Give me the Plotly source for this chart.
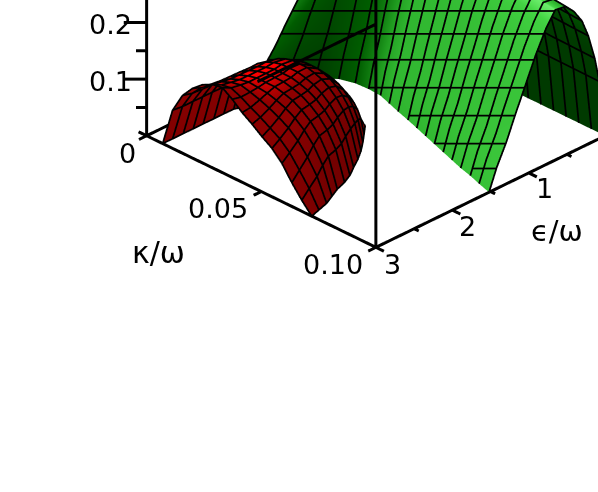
import numpy as np
import plotly.graph_objects as go

# ---------- values ----------
eps_range = [-0.6, 3.6]
kap_range = [-0.02, 0.12]
z_range = [-0.1, 0.5]

# red lobe
red_eps = [3, 2.87, 2.73, 2.6, 2.47, 2.33, 2.2, 2.07, 1.93, 1.8, 1.67, 1.55, 1.43]
red_kl = [.007, .007, .007, .007, .007, .007, .007, .007, .009, .013, .018, .025, .035]
red_kr = [.072, .0708, .0695, .0675, .0655, .064, .062, .0593, .0565, .0535, .05, .0465, .043]
red_h = [.15, .14, .135, .13, .127, .125, .122, .12, .118, .108, .088, .06, 0]
red_mix = [0, .3, .6, .85, 1, 1, 1, 1, 1, 1, 1, 1, 1]
red_front = [0, .45, .68, .82, .92, .98, 1, .92, .82, .74, .65, .57, .45, .28, .13, 0]
red_dome = [0, .5, .72, .84, .92, .97, 1, 1, 1, .97, .93, .86, .76, .62, .4, 0]

# green lobe
grn_kap = [0, .0055, .011, .0165, .022, .0275, .033, .0385, .044, .05, .0555, .061, .0665, .072, .0775, .083, .0885, .094, .1]
grn_eb = [1.55, 1.33, 1.12, .98, .93, .92, .93, .98, 1.03, 1.08, 1.13, 1.18, 1.23, 1.28, 1.33, 1.38, 1.42, 1.47, 1.52]
grn_h = [.17, .22, .26, .28, .29, .28, .272, .268, .265, .265, .265, .265, .265, .265, .265, .265, .265, .265, .265]
grn_tone = [.55, .55, .55, .5, .45, .3, .1, 0, 0, 0, 0, 0, 0, 0, 0, 0, 0, 0, 0]
grn_u = [0, .05, .09, .145, .2, .27, .34, .43, .51, .60, .684, .77, .85, .934, 1]
grn_p = [0, .38, .55, .72, .84, .93, .99, 1, .905, .76, .60, .44, .28, .14, 0]
grn_levels = [168, 143, 115, 87, 59, 33, 10]

z_ticks_major = [0.1, 0.2]
z_ticks_minor = [0.05, 0.15, 0.25, 0.3, 0.35]
kap_ticks = [0.05]
eps_ticks_major = [1, 2]
eps_ticks_minor = [0.5, 1.5, 2.5]

# ---------- view ----------
view = np.array([.618, .618, .487])
screen_up = np.array([-.344, -.344, .874])
cen = np.array([.5335, .0914, -.794])
dist = 2.0
EPS_U, KAP_U, Z_U = 3.0, 0.1, 0.5   # data span of one scene unit
RED_LIGHT = np.array([.1, -.25, .96])
GRN_LIGHT = np.array([.45, -.2, .87])
ZOOM = 1.318
LIFT = 0.02


def shade(X, Y, Z, light):
    A = np.stack([X / EPS_U, Y / KAP_U, Z / Z_U], axis=-1)
    du = np.gradient(A, axis=0)
    dv = np.gradient(A, axis=1)
    n = np.cross(du, dv)
    n = n * np.sign(n[..., 2:3] + 1e-12)
    n = n / (np.linalg.norm(n, axis=-1, keepdims=True) + 1e-12)
    return n @ light


def lines_trace(polys, width=3.5):
    xs, ys, zs = [], [], []
    for a, b, c in polys:
        xs += [p + view[0] * LIFT * EPS_U for p in a] + [None]
        ys += [p + view[1] * LIFT * KAP_U for p in b] + [None]
        zs += [p + view[2] * LIFT * Z_U for p in c] + [None]
    return go.Scatter3d(x=xs, y=ys, z=zs, mode="lines", line=dict(color="black", width=width),
                        hoverinfo="skip", showlegend=False)


def seg(x, y, z, w=6):
    return go.Scatter3d(x=x, y=y, z=z, mode="lines", line=dict(color="black", width=w),
                        hoverinfo="skip", showlegend=False)


# red
v = np.linspace(0, 1, len(red_dome))
E_r = np.array(red_eps)[:, None] * np.ones(len(v))
K_r = np.array(red_kl)[:, None] + np.outer(np.array(red_kr) - np.array(red_kl), v)
mix = np.array(red_mix)[:, None]
Z_r = np.array(red_h)[:, None] * ((1 - mix) * np.array(red_front) + mix * np.array(red_dome))
S_r = shade(E_r, K_r, Z_r, RED_LIGHT)
red_polys = [(E_r[i], K_r[i], Z_r[i]) for i in range(E_r.shape[0])]
red_polys += [(E_r[:, j], K_r[:, j], Z_r[:, j]) for j in range(E_r.shape[1])]

# green
E_g = np.outer(np.array(grn_eb), np.array(grn_u))
K_g = np.array(grn_kap)[:, None] * np.ones(len(grn_u))
Z_g = np.outer(np.array(grn_h), np.array(grn_p))
S_g = shade(E_g, K_g, Z_g, GRN_LIGHT) - np.array(grn_tone)[:, None]

grn_polys = [(E_g[i], K_g[i], Z_g[i]) for i in range(E_g.shape[0])]
peak = int(np.argmax(grn_p))
grn_polys += [(E_g[:, j], K_g[:, j], Z_g[:, j]) for j in range(1, peak)]


def screen_row(e, k, z):
    w = (e - 3) / EPS_U * screen_up[0] + (k - .1) / KAP_U * screen_up[1] + z / Z_U * screen_up[2]
    return 247 - 325 * w


for Y in grn_levels:
    pe, pk, pz = [], [], []
    for i in range(E_g.shape[0]):
        ee, zz = E_g[i, peak:], Z_g[i, peak:]
        yy = screen_row(ee, K_g[i, peak:], zz)
        if yy.min() <= Y <= yy.max():
            pe.append(np.interp(Y, yy, ee))
            pk.append(K_g[i, 0])
            pz.append(np.interp(Y, yy, zz))
        elif pe:
            break
    if len(pe) > 1:
        grn_polys.append((pe, pk, pz))

flat = dict(ambient=1, diffuse=0, specular=0, roughness=1, fresnel=0)
red_scale = [[0, "#700000"], [.5, "#800000"], [.85, "#8f0000"], [.93, "#c00000"], [.98, "#ff0000"], [1, "#ff0000"]]
grn_scale = [[0, "#003a00"], [.3, "#005c00"], [.6, "#1f9a1f"], [.8, "#33bb33"], [.93, "#44d544"], [1, "#70f070"]]

fig = go.Figure()
fig.add_trace(go.Surface(x=E_r, y=K_r, z=Z_r, surfacecolor=S_r, colorscale=red_scale, cmin=0, cmax=1,
                         showscale=False, lighting=flat, hoverinfo="skip"))
fig.add_trace(go.Surface(x=E_g, y=K_g, z=Z_g, surfacecolor=S_g, colorscale=grn_scale, cmin=-.2, cmax=1,
                         showscale=False, lighting=flat, hoverinfo="skip"))
fig.add_trace(lines_trace(red_polys))
fig.add_trace(lines_trace(grn_polys))

# box lines
fig.add_trace(seg([3, 3], [0, .1], [0, 0]))
fig.add_trace(seg([3, 0], [.1, .1], [0, 0]))
fig.add_trace(seg([3, 0], [0, 0], [0, 0]))
fig.add_trace(seg([3, 3], [0, 0], [0, .45]))
fig.add_trace(seg([3, 3], [.1, .1], [0, .45]))
# back edge piece that stays in front of the green lobe
t = 1.0
fig.add_trace(seg([1.55 + view[0] * t * EPS_U, view[0] * t * EPS_U],
                  [view[1] * t * KAP_U, view[1] * t * KAP_U],
                  [view[2] * t * Z_U, view[2] * t * Z_U]))

# ticks
for zt in z_ticks_major:
    fig.add_trace(seg([3, 3 + .15], [0, -.005], [zt, zt]))
for zt in z_ticks_minor:
    fig.add_trace(seg([3, 3 + .07], [0, -.0023], [zt, zt]))
for kt in kap_ticks:
    fig.add_trace(seg([3, 3.1], [kt, kt], [0, 0]))
for et in eps_ticks_major:
    fig.add_trace(seg([et, et], [.1, .1035], [0, 0]))
for et in eps_ticks_minor:
    fig.add_trace(seg([et, et], [.1, .102], [0, 0]))
fig.add_trace(seg([3, 3.1], [.1, .1], [0, 0]))
fig.add_trace(seg([3, 3], [.1, .1035], [0, 0]))
fig.add_trace(seg([3, 3.1], [0, 0], [0, 0]))
fig.add_trace(seg([3, 3], [0, -.0035], [0, 0]))


def lab(text, e, k, z, dx, dy, size=27):
    return dict(x=e, y=k, z=z, text=text, showarrow=False, xshift=dx, yshift=dy,
                font=dict(family="DejaVu Sans", size=size, color="black"))


ann = [
    lab("0", 3, 0, 0, -19, -18), lab("0.05", 3, .05, 0, -43, -17), lab("0.10", 3, .1, 0, -43, -17),
    lab("3", 3, .1, 0, 17, -17), lab("2", 2, .1, 0, 15, -16), lab("1", 1, .1, 0, 16, -16),
    lab("0.1", 3, 0, .1, -36, -2), lab("0.2", 3, 0, .2, -36, -2),
    lab("κ/ω", 3, .05, 0, -103, -61, 30), lab("ϵ/ω", 1, .1, 0, 28, -58, 29),
]

eye = cen + dist * view
fig.update_layout(
    width=598, height=492, margin=dict(l=0, r=0, t=0, b=0), paper_bgcolor="white", showlegend=False,
    scene=dict(
        domain=dict(x=[0, 1], y=[0, 1]),
        xaxis=dict(range=eps_range, visible=False),
        yaxis=dict(range=kap_range, visible=False),
        zaxis=dict(range=z_range, visible=False),
        aspectmode="manual",
        aspectratio=dict(x=1.4 * ZOOM, y=1.4 * ZOOM, z=1.2 * ZOOM),
        camera=dict(projection=dict(type="orthographic"), up=dict(x=0, y=0, z=1),
                    center=dict(x=cen[0], y=cen[1], z=cen[2]),
                    eye=dict(x=eye[0], y=eye[1], z=eye[2])),
        annotations=ann,
    ),
)
fig.write_html("out.html", post_script="document.body.style.margin='0';", config=dict(displayModeBar=False))
